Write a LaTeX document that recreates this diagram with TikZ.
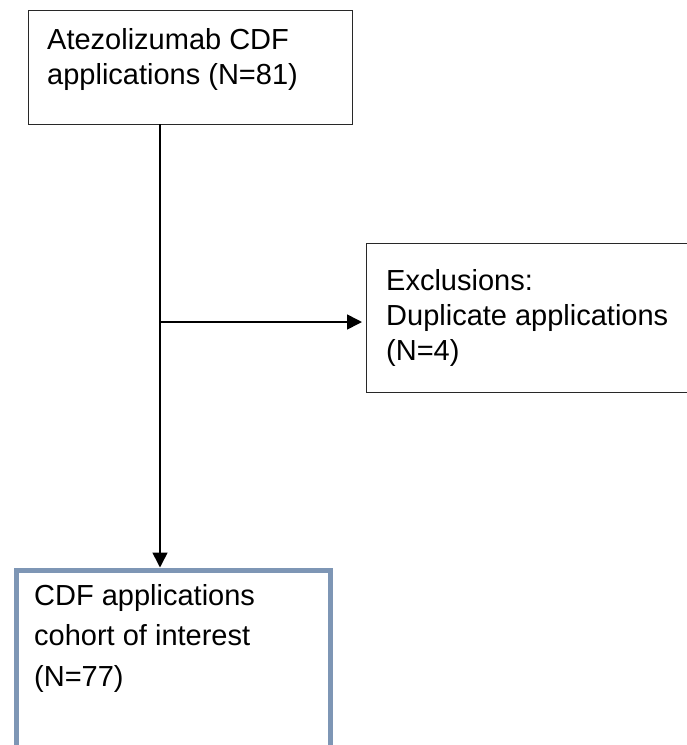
\documentclass[tikz,border=0pt]{standalone}
\usepackage{fontspec}
\setmainfont{Liberation Sans}
\usetikzlibrary{arrows.meta}
\definecolor{boxblue}{RGB}{126,150,181}
\definecolor{boxline}{RGB}{40,40,40}
\tikzset{
  plainbox/.style={draw=boxline, line width=1.4pt, rectangle, inner sep=0pt, anchor=north west},
  bluebox/.style={draw=boxblue, line width=5pt, rectangle, inner sep=0pt, anchor=north west},
  txt/.style={inner sep=0pt, anchor=north west, align=left, font=\fontsize{29}{35}\selectfont},
  txtwide/.style={txt, font=\fontsize{29}{40.5}\selectfont},
  conn/.style={line width=1.6pt, -{Triangle[length=15pt,width=15pt]}},
}
\begin{document}
\begin{tikzpicture}[x=1pt,y=-1pt]
\useasboundingbox (0,0) rectangle (687,745);
\clip (0,0) rectangle (687,745);
% boxes
\node[plainbox, minimum width=324pt, minimum height=114pt] (top) at (28,10) {};
\node[plainbox, minimum width=340pt, minimum height=149pt] (excl) at (366,243) {};
\node[bluebox, minimum width=314pt, minimum height=200pt] (bot) at (13.5,567.5) {};
% texts
\node[txt] (toptxt) at (47,28.5) {Atezolizumab CDF\\applications (N=81)};
\node[txt] (excltxt) at (386,269) {Exclusions:\\Duplicate applications\\(N=4)};
\node[txtwide] (bottxt) at (34,584) {CDF applications\\cohort of interest\\(N=77)};
% connectors
\coordinate (t0) at (160,124);
\coordinate (branch) at (160,322);
\draw[conn] (t0) -- (t0 |- bot.north);
\draw[conn, shorten >=4pt] (branch) -- (branch -| excl.west);
\end{tikzpicture}
\end{document}
